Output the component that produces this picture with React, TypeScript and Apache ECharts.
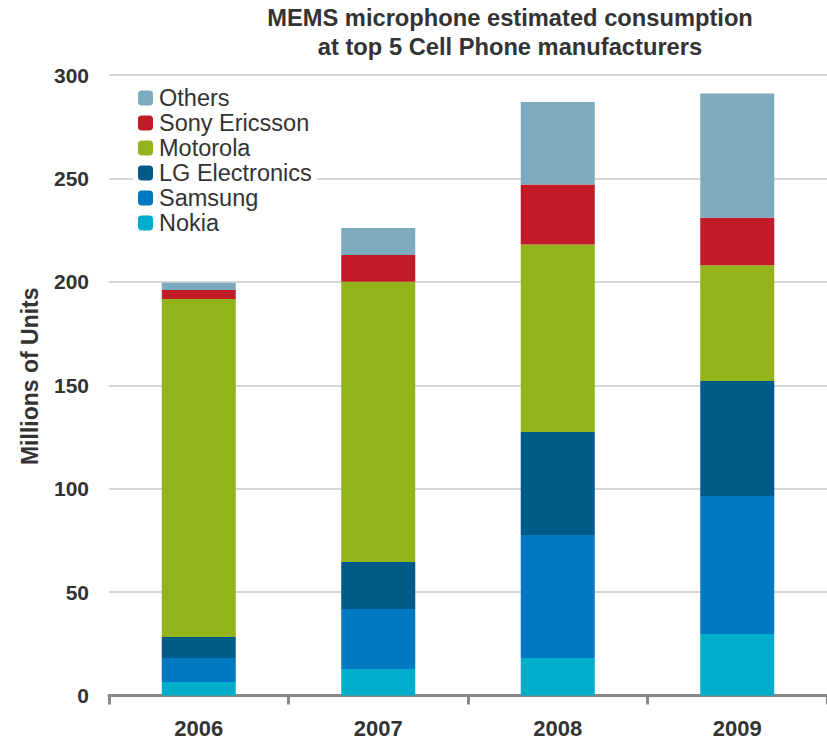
import React, { useEffect, useRef } from "react";
import * as echarts from "echarts";

const years = ["2006", "2007", "2008", "2009"];
const nokia = [6.5, 12.8, 18.1, 29.7];
const samsung = [11.6, 29.0, 59.5, 66.8];
const lg = [10.2, 22.7, 49.8, 55.5];
const motorola = [163.4, 135.5, 90.6, 56.0];
const sony = [4.3, 13.0, 29.0, 23.0];
const others = [3.5, 13.0, 40.0, 60.0];

const seriesDefs = [
  { name: "Nokia", data: nokia, color: "#00adcb" },
  { name: "Samsung", data: samsung, color: "#0079c2" },
  { name: "LG Electronics", data: lg, color: "#005a89" },
  { name: "Motorola", data: motorola, color: "#93b31b" },
  { name: "Sony Ericsson", data: sony, color: "#c01b27" },
  { name: "Others", data: others, color: "#7eaabe" },
];

const legendOrder = ["Others", "Sony Ericsson", "Motorola", "LG Electronics", "Samsung", "Nokia"];

const FONT = "'Liberation Sans', Arial, sans-serif";

export default function App() {
  const ref = useRef<HTMLDivElement>(null);
  useEffect(() => {
    if (!ref.current) return;
    const chart = echarts.init(ref.current, undefined, { renderer: "svg" });
    chart.setOption({
      animation: false,
      backgroundColor: "#ffffff",
      textStyle: { fontFamily: FONT },
      title: {
        text: "MEMS microphone estimated consumption\nat top 5 Cell Phone manufacturers",
        left: 510,
        top: 3,
        padding: 0,
        textAlign: "center",
        textStyle: {
          fontFamily: FONT,
          fontSize: 23.7,
          fontWeight: "bold",
          color: "#333333",
          lineHeight: 29,
        },
      },
      legend: {
        orient: "vertical",
        left: 133,
        top: 84,
        padding: [2, 5],
        backgroundColor: "#ffffff",
        itemWidth: 15,
        itemHeight: 15,
        itemGap: 1,
        data: legendOrder,
        textStyle: { fontFamily: FONT, fontSize: 23.5, color: "#333333", padding: [0, 0, 0, 1] },
      },
      grid: { left: 109, right: -11, top: 75, bottom: 47.5, containLabel: false },
      xAxis: {
        type: "category",
        data: years,
        axisLine: { lineStyle: { color: "#888888", width: 3 } },
        axisTick: { show: true, length: 9, lineStyle: { color: "#888888", width: 3 } },
        axisLabel: {
          fontFamily: FONT,
          fontSize: 22,
          fontWeight: "bold",
          color: "#333333",
          margin: 22,
        },
        splitLine: { show: false },
      },
      yAxis: {
        type: "value",
        min: 0,
        max: 300,
        interval: 50,
        name: "Millions of Units",
        nameLocation: "middle",
        nameGap: 68,
        nameTextStyle: {
          fontFamily: FONT,
          fontSize: 23,
          fontWeight: "bold",
          color: "#333333",
          padding: [0, 0, 0, 18],
        },
        axisLine: { show: false },
        axisTick: { show: false },
        axisLabel: {
          fontFamily: FONT,
          fontSize: 21,
          fontWeight: "bold",
          color: "#333333",
          margin: 20,
        },
        splitLine: { lineStyle: { color: "#c8c8c8", width: 1.5 } },
      },
      series: seriesDefs.map((s) => ({
        name: s.name,
        type: "bar",
        stack: "total",
        data: s.data,
        barWidth: 74,
        itemStyle: { color: s.color },
        emphasis: { disabled: true },
      })),
    });
    return () => chart.dispose();
  }, []);
  return (
    <div
      ref={ref}
      style={{ position: "fixed", left: 0, top: 0, width: 827, height: 743 }}
    />
  );
}
